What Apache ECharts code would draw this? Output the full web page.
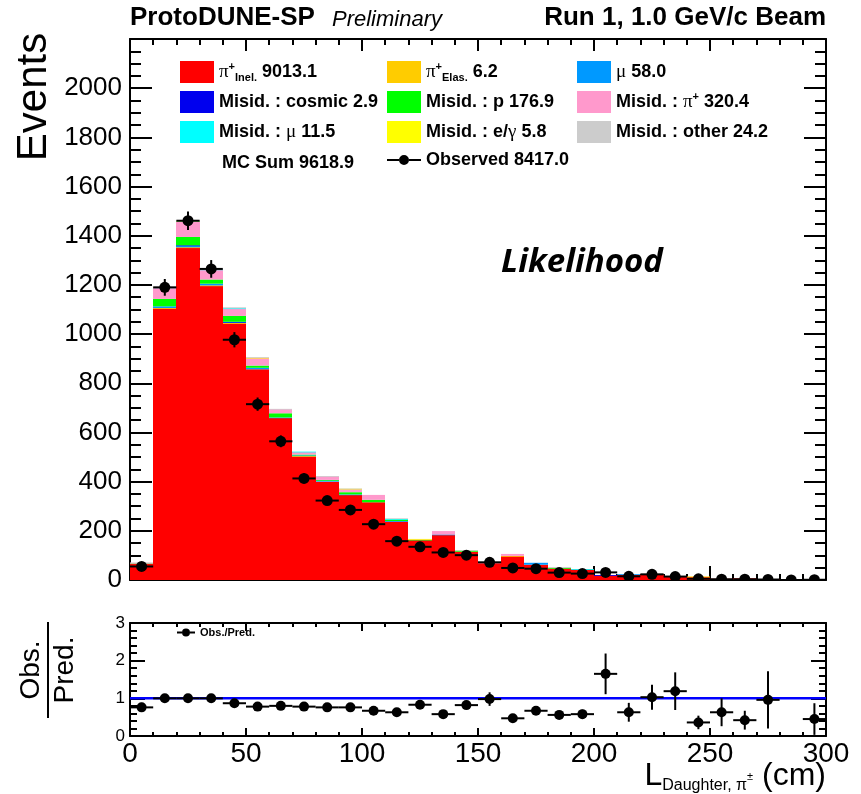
<!DOCTYPE html>
<html><head><meta charset="utf-8">
<script src="https://cdn.jsdelivr.net/npm/echarts@6/dist/echarts.min.js"></script>
<style>html,body{margin:0;padding:0;background:#fff}#c{width:861px;height:794px}</style>
</head><body><div id="c"></div>
<script>
// ---- data (bins of 10 cm) ----
const binLow = [0,10,20,30,40,50,60,70,80,90,100,110,120,130,140,150,160,170,180,190,200,210,220,230,240,250,260,270,280,290];
const binWidth = 10;
const piInel   = [66,1105,1352,1197,1044,857,659,503,400,346,316,238,162,184,115,70,97,62,47,43,19,21,22,12,13,5,7,2,1,2];
const piElas   = [0,1,1,1,1,0,0,1,0,0,0,0,0,0,0,0,1,0,0,0,0,0,0,0,0,0,0,0,0,0];
const muon     = [0,7,7,7,4,6,2,3,5,2,0,2,0,1,0,0,0,8,0,0,0,3,0,0,0,0,0,0,0,0];
const misCosmic= [0,0,1,0,1,0,0,0,0,0,0,0,0,0,0,0,0,0,0,0,1,0,0,0,0,0,0,0,0,0];
const misP     = [2,30,34,17,24,9,17,3,2,9,10,6,2,0,5,0,0,0,2,0,0,0,0,0,0,0,0,0,0,0];
const misPi    = [2,46,63,40,30,31,17,10,15,13,20,0,2,14,0,1,8,0,0,0,0,0,0,0,0,0,0,0,0,0];
const misMu    = [0,1,2,1,1,0,0,2,0,0,0,2,0,0,0,0,0,0,0,1,0,0,0,0,0,0,0,0,0,0];
const misEg    = [0,1,1,0,0,1,0,0,0,1,0,0,1,0,0,0,0,0,0,0,0,0,0,0,1,0,0,0,0,0];
const misOther = [1,2,2,3,4,2,1,0,1,1,0,3,0,0,2,1,0,0,4,0,0,0,0,0,0,0,0,0,0,0];
const observed    = [55,1190,1461,1265,977,715,564,413,323,285,227,158,135,112,101,72,49,46,30,26,31,15,23,14,5,3,3,2,0,1];
const observedErr = [7,34,38,36,31,27,24,20,18,17,15,13,12,11,10,8,7,7,5,5,6,4,5,4,2,2,2,1,0,1];
const ratio    = [0.76,1.0,1.0,1.0,0.87,0.78,0.80,0.78,0.76,0.76,0.67,0.63,0.83,0.58,0.82,0.98,0.47,0.67,0.56,0.58,1.65,0.63,1.03,1.19,0.36,0.63,0.42,0.96,null,0.45];
const ratioErr = [0.12,0.03,0.03,0.03,0.03,0.03,0.04,0.04,0.05,0.05,0.05,0.06,0.07,0.06,0.09,0.18,0.08,0.11,0.11,0.12,0.54,0.25,0.33,0.5,0.18,0.37,0.25,0.76,null,0.42];

const comps = [
  {name:'π+ Inel. 9013.1',      data:piInel,    color:'#ff0000', label:'{g|π}{sup|+}{sub|Inel.}{t| 9013.1}'},
  {name:'π+ Elas. 6.2',         data:piElas,    color:'#ffcc00', label:'{g|π}{sup|+}{sub|Elas.}{t| 6.2}'},
  {name:'μ 58.0',               data:muon,      color:'#0099ff', label:'{g|μ}{t| 58.0}'},
  {name:'Misid. : cosmic 2.9',  data:misCosmic, color:'#0000ee', label:'{t|Misid. : cosmic 2.9}'},
  {name:'Misid. : p 176.9',     data:misP,      color:'#00ff00', label:'{t|Misid. : p 176.9}'},
  {name:'Misid. : π+ 320.4',    data:misPi,     color:'#ff99cc', label:'{t|Misid. : }{g|π}{sup|+}{t| 320.4}'},
  {name:'Misid. : μ 11.5',      data:misMu,     color:'#00ffff', label:'{t|Misid. : }{g|μ}{t| 11.5}'},
  {name:'Misid. : e/γ 5.8',     data:misEg,     color:'#ffff00', label:'{t|Misid. : e/}{g|γ}{t| 5.8}'},
  {name:'Misid. : other 24.2',  data:misOther,  color:'#cccccc', label:'{t|Misid. : other 24.2}'}
];
const obsName = 'Observed 8417.0';
const ratioName = 'Obs./Pred.';
const labelMap = {}; comps.forEach(c=>labelMap[c.name]=c.label);
labelMap[obsName] = '{t|Observed 8417.0}';
labelMap[ratioName] = '{s|Obs./Pred.}';

const base = binLow.map(()=>0);
const stackSeries = comps.map(c=>{
  const d = binLow.map((x,i)=>{ const b = base[i]; base[i] += c.data[i]; return [x, x+binWidth, b, base[i]]; });
  return {
    type:'custom', name:c.name, xAxisIndex:0, yAxisIndex:0, z:2, clip:true, silent:true,
    itemStyle:{color:c.color},
    encode:{x:[0,1], y:[2,3]},
    data:d,
    renderItem:(params, api)=>{
      if (api.value(3) <= api.value(2)) return null;
      const p0 = api.coord([api.value(0), api.value(3)]);
      const p1 = api.coord([api.value(1), api.value(2)]);
      const x0 = Math.round(p0[0]), x1 = Math.round(p1[0]);
      const y0 = p0[1], y1 = p1[1];
      return {type:'rect', shape:{x:x0, y:y0, width:x1-x0, height:Math.max(y1-y0, 0.8)}, style:{fill:c.color}};
    }
  };
});

function errRender(r){
  return (params, api)=>{
    const x = api.value(0), y = api.value(1), e = api.value(2);
    const c = api.coord([x,y]);
    const l = api.coord([x-binWidth/2,y]), rr = api.coord([x+binWidth/2,y]);
    const lo = api.coord([x,y-e]), hi = api.coord([x,y+e]);
    return {type:'group', children:[
      {type:'line', shape:{x1:l[0],y1:c[1],x2:rr[0],y2:c[1]}, style:{stroke:'#000',lineWidth:2}},
      {type:'line', shape:{x1:c[0],y1:lo[1],x2:c[0],y2:hi[1]}, style:{stroke:'#000',lineWidth:2}},
      {type:'circle', shape:{cx:c[0],cy:c[1],r:r}, style:{fill:'#000'}}
    ]};
  };
}
const obsData = binLow.map((x,i)=>[x+binWidth/2, observed[i], observedErr[i]]);
const ratioData = binLow.map((x,i)=>ratio[i]==null?null:[x+binWidth/2, ratio[i], ratioErr[i]]).filter(d=>d);

const FONT = '"Liberation Sans", Arial, Helvetica, sans-serif';
const rich = {
  t:{fontFamily:FONT, fontWeight:'bold', fontSize:18, color:'#000', lineHeight:22},
  g:{fontFamily:'"Liberation Serif", serif', fontSize:19, color:'#000', lineHeight:22},
  sup:{fontFamily:FONT, fontWeight:'bold', fontSize:11, color:'#000', lineHeight:11, verticalAlign:'top'},
  sub:{fontFamily:FONT, fontWeight:'bold', fontSize:11, color:'#000', lineHeight:11, verticalAlign:'bottom'},
  s:{fontFamily:FONT, fontWeight:'bold', fontSize:11, color:'#000'}
};
const obsIcon = 'path://M0,10 L12,10 L12,12 L0,12 Z M22,10 L34,10 L34,12 L22,12 Z M12,11 A5,5 0 1,1 22,11 A5,5 0 1,1 12,11 Z';
const ratioIcon = 'path://M0,4 L5,4 L5,6 L0,6 Z M13,4 L18,4 L18,6 L13,6 Z M5,5 A4,4 0 1,1 13,5 A4,4 0 1,1 5,5 Z';
const legendCommon = {orient:'vertical', itemWidth:34, itemHeight:22, itemGap:8, selectedMode:false,
  formatter:n=>labelMap[n], textStyle:{rich:rich}, padding:0};

const axLine = {onZero:false, lineStyle:{color:'#000', width:2}};
const plain = v => String(v);
function xAx(grid, pos, major, minor, labels){
  return {type:'value', gridIndex:grid, position:pos, min:0, max:300, interval:50,
    axisLine:axLine, splitLine:{show:false},
    axisTick:{inside:true, length:major, lineStyle:{color:'#000', width:2}},
    minorTick:{show:true, splitNumber:5, length:minor, lineStyle:{color:'#000', width:2}},
    axisLabel: labels ? {show:true, fontFamily:FONT, fontSize:28, color:'#000', margin:4, formatter:plain} : {show:false}};
}
function yAx(grid, pos, max, interval, split, major, minor, labels){
  return {type:'value', gridIndex:grid, position:pos, min:0, max:max, interval:interval,
    axisLine:axLine, splitLine:{show:false},
    axisTick:{inside:true, length:major, lineStyle:{color:'#000', width:2}},
    minorTick:{show:true, splitNumber:split, length:minor, lineStyle:{color:'#000', width:2}},
    axisLabel: labels || {show:false}};
}

const option = {
  animation:false,
  backgroundColor:'#fff',
  grid:[
    {left:130, top:39, width:696, height:541},
    {left:130, top:623, width:696, height:113}
  ],
  xAxis:[
    xAx(0,'bottom',14,6,false),
    xAx(0,'top',12,6,false),
    xAx(1,'bottom',8,4,true),
    xAx(1,'top',8,4,false)
  ],
  yAxis:[
    yAx(0,'left',2200,200,4,22,11,{show:true, fontFamily:FONT, fontSize:26, color:'#000', margin:8, showMaxLabel:false, formatter:plain}),
    yAx(0,'right',2200,200,4,22,11,null),
    yAx(1,'left',3,1,5,15,7,{show:true, fontFamily:FONT, fontSize:17, color:'#000', margin:5, formatter:plain}),
    yAx(1,'right',3,1,5,15,7,null)
  ],
  legend:[
    Object.assign({left:180, top:61, data:[comps[0],comps[3],comps[6]].map(c=>({name:c.name, icon:'rect'}))}, legendCommon),
    Object.assign({left:387, top:61, data:[comps[1],comps[4],comps[7]].map(c=>({name:c.name, icon:'rect'})).concat([{name:obsName, icon:obsIcon, itemStyle:{color:'#000', borderWidth:0}}])}, legendCommon),
    Object.assign({left:577, top:61, data:[comps[2],comps[5],comps[8]].map(c=>({name:c.name, icon:'rect'}))}, legendCommon),
    {left:177, top:627, orient:'vertical', itemWidth:18, itemHeight:10, selectedMode:false, padding:0,
      data:[{name:ratioName, icon:ratioIcon, itemStyle:{color:'#000', borderWidth:0}}],
      formatter:n=>labelMap[n], textStyle:{rich:rich}}
  ],
  series: stackSeries.concat([
    {type:'custom', name:obsName, xAxisIndex:0, yAxisIndex:0, z:5, clip:true, silent:true,
      itemStyle:{color:'#000'}, encode:{x:0, y:1}, data:obsData, renderItem:errRender(5.5)},
    {type:'line', name:'unity', xAxisIndex:2, yAxisIndex:2, z:3, silent:true, symbol:'none',
      lineStyle:{color:'#0000ff', width:2.5}, data:[[0,1],[300,1]]},
    {type:'custom', name:ratioName, xAxisIndex:2, yAxisIndex:2, z:5, clip:true, silent:true,
      itemStyle:{color:'#000'}, encode:{x:0, y:1}, data:ratioData, renderItem:errRender(5)}
  ]),
  graphic:[
    {type:'text', x:130, y:18, style:{text:'ProtoDUNE-SP', font:'bold 26px '+FONT, fill:'#000', verticalAlign:'middle'}},
    {type:'text', x:332, y:20, style:{text:'Preliminary', font:'italic 22px '+FONT, fill:'#000', verticalAlign:'middle'}},
    {type:'text', x:826, y:18, style:{text:'Run 1, 1.0 GeV/c Beam', font:'bold 26px '+FONT, fill:'#000', align:'right', verticalAlign:'middle'}},
    {type:'text', x:34, y:97, rotation:Math.PI/2, style:{text:'Events', font:'42px '+FONT, fill:'#000', align:'center', verticalAlign:'middle'}},
    {type:'text', x:222, y:163, style:{text:'MC Sum 9618.9', font:'bold 18px '+FONT, fill:'#000', verticalAlign:'middle'}},
    {type:'text', x:582, y:263, style:{text:'Likelihood', font:'italic bold 33px "Open Sans", "Noto Sans", sans-serif', fill:'#000', align:'center', verticalAlign:'middle'}},
    {type:'group', x:48, y:670, rotation:Math.PI/2, children:[
      {type:'text', x:0, y:-3, style:{text:'Obs.', font:'28px '+FONT, fill:'#000', align:'center', verticalAlign:'bottom'}},
      {type:'line', shape:{x1:-48, y1:0, x2:48, y2:0}, style:{stroke:'#000', lineWidth:2}},
      {type:'text', x:0, y:3, style:{text:'Pred.', font:'28px '+FONT, fill:'#000', align:'center', verticalAlign:'top'}}
    ]},
    {type:'text', x:826, y:794, style:{text:'{L|L}{s|Daughter, π}{sp|±}{L| (cm)}', align:'right', verticalAlign:'bottom',
      rich:{L:{font:'32px '+FONT, fill:'#000', lineHeight:34, verticalAlign:'top'},
            s:{font:'16px '+FONT, fill:'#000', lineHeight:16, verticalAlign:'bottom'},
            sp:{font:'11px '+FONT, fill:'#000', lineHeight:11, verticalAlign:'middle'}}}}
  ]
};
const chart = echarts.init(document.getElementById('c'), null, {renderer:'canvas'});
chart.setOption(option);
</script></body></html>
